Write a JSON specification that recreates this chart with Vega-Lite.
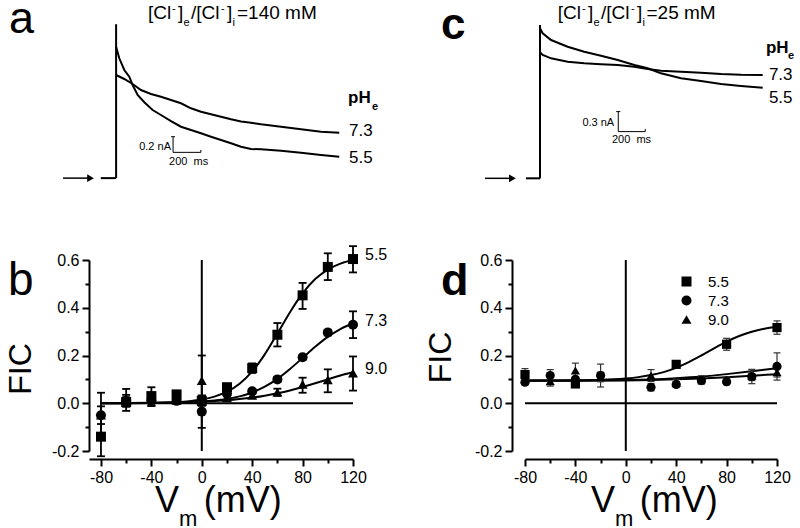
{
 "$schema": "https://vega.github.io/schema/vega-lite/v6.json",
 "background": "white",
 "padding": {"left": 4, "top": -4, "right": 0, "bottom": 0},
 "bounds": "flush",
 "columns": 2,
 "spacing": {"row": 60, "column": 172},
 "resolve": {"scale": {"shape": "independent"}, "legend": {"shape": "independent"}},
 "config": {
  "view": {"stroke": null},
  "font": "Liberation Sans",
  "text": {"font": "Liberation Sans", "color": "black"},
  "axis": {"labelFont": "Liberation Sans", "labelFontSize": 16, "labelColor": "black", "domainColor": "black", "domainWidth": 2, "tickColor": "black", "tickWidth": 2, "grid": false, "labelPadding": 3},
  "legend": {"labelFont": "Liberation Sans", "labelColor": "black"}
 },
 "datasets": {
  "b_pts": [
   {"ph":"5.5","V":-80,"FIC":-0.14,"lo":-0.222,"hi":-0.058},
   {"ph":"5.5","V":-60,"FIC":0.005,"lo":-0.015,"hi":0.025},
   {"ph":"5.5","V":-40,"FIC":0.03,"lo":-0.012,"hi":0.067},
   {"ph":"5.5","V":-20,"FIC":0.037,"lo":0.022,"hi":0.052},
   {"ph":"5.5","V":0,"FIC":0.01,"lo":-0.01,"hi":0.03},
   {"ph":"5.5","V":20,"FIC":0.067,"lo":0.052,"hi":0.082},
   {"ph":"5.5","V":40,"FIC":0.147,"lo":0.127,"hi":0.167},
   {"ph":"5.5","V":60,"FIC":0.287,"lo":0.238,"hi":0.336},
   {"ph":"5.5","V":80,"FIC":0.452,"lo":0.395,"hi":0.504},
   {"ph":"5.5","V":100,"FIC":0.571,"lo":0.516,"hi":0.628},
   {"ph":"5.5","V":120,"FIC":0.604,"lo":0.548,"hi":0.658},
   {"ph":"7.3","V":-80,"FIC":-0.05,"lo":-0.087,"hi":-0.013},
   {"ph":"7.3","V":-60,"FIC":0.01,"lo":-0.032,"hi":0.06},
   {"ph":"7.3","V":-40,"FIC":0.01,"lo":-0.01,"hi":0.03},
   {"ph":"7.3","V":-20,"FIC":0.01,"lo":0.0,"hi":0.02},
   {"ph":"7.3","V":0,"FIC":-0.035,"lo":-0.103,"hi":0.033},
   {"ph":"7.3","V":20,"FIC":0.04,"lo":0.03,"hi":0.05},
   {"ph":"7.3","V":40,"FIC":0.05,"lo":0.04,"hi":0.06},
   {"ph":"7.3","V":60,"FIC":0.1,"lo":0.09,"hi":0.11},
   {"ph":"7.3","V":80,"FIC":0.193,"lo":0.183,"hi":0.203},
   {"ph":"7.3","V":100,"FIC":0.296,"lo":0.284,"hi":0.308},
   {"ph":"7.3","V":120,"FIC":0.329,"lo":0.273,"hi":0.385},
   {"ph":"9.0","V":-80,"FIC":-0.05,"lo":-0.144,"hi":0.044},
   {"ph":"9.0","V":-60,"FIC":0.015,"lo":-0.005,"hi":0.035},
   {"ph":"9.0","V":-40,"FIC":0.02,"lo":0.0,"hi":0.04},
   {"ph":"9.0","V":-20,"FIC":0.012,"lo":0.002,"hi":0.022},
   {"ph":"9.0","V":0,"FIC":0.095,"lo":-0.01,"hi":0.2},
   {"ph":"9.0","V":20,"FIC":0.022,"lo":0.012,"hi":0.032},
   {"ph":"9.0","V":40,"FIC":0.033,"lo":0.023,"hi":0.043},
   {"ph":"9.0","V":60,"FIC":0.046,"lo":0.031,"hi":0.061},
   {"ph":"9.0","V":80,"FIC":0.079,"lo":0.044,"hi":0.107},
   {"ph":"9.0","V":100,"FIC":0.098,"lo":0.046,"hi":0.142},
   {"ph":"9.0","V":120,"FIC":0.126,"lo":0.053,"hi":0.196}
  ],
  "b_fit": [
   {"ph":"5.5","V":-80,"FIC":0.0002},{"ph":"5.5","V":-60,"FIC":0.0005},{"ph":"5.5","V":-40,"FIC":0.0015},{"ph":"5.5","V":-30,"FIC":0.0028},{"ph":"5.5","V":-20,"FIC":0.005},{"ph":"5.5","V":-10,"FIC":0.0088},{"ph":"5.5","V":0,"FIC":0.0157},{"ph":"5.5","V":10,"FIC":0.0278},{"ph":"5.5","V":20,"FIC":0.0484},{"ph":"5.5","V":30,"FIC":0.0819},{"ph":"5.5","V":40,"FIC":0.1334},{"ph":"5.5","V":50,"FIC":0.2049},{"ph":"5.5","V":60,"FIC":0.2918},{"ph":"5.5","V":70,"FIC":0.3815},{"ph":"5.5","V":80,"FIC":0.46},{"ph":"5.5","V":90,"FIC":0.52},{"ph":"5.5","V":100,"FIC":0.56},{"ph":"5.5","V":110,"FIC":0.585},{"ph":"5.5","V":120,"FIC":0.6},
   {"ph":"7.3","V":-80,"FIC":0.0001},{"ph":"7.3","V":-60,"FIC":0.0004},{"ph":"7.3","V":-40,"FIC":0.0009},{"ph":"7.3","V":-20,"FIC":0.0025},{"ph":"7.3","V":-10,"FIC":0.0042},{"ph":"7.3","V":0,"FIC":0.0068},{"ph":"7.3","V":10,"FIC":0.0111},{"ph":"7.3","V":20,"FIC":0.018},{"ph":"7.3","V":30,"FIC":0.0288},{"ph":"7.3","V":40,"FIC":0.0452},{"ph":"7.3","V":50,"FIC":0.0693},{"ph":"7.3","V":60,"FIC":0.102},{"ph":"7.3","V":70,"FIC":0.1435},{"ph":"7.3","V":80,"FIC":0.19},{"ph":"7.3","V":90,"FIC":0.2365},{"ph":"7.3","V":100,"FIC":0.278},{"ph":"7.3","V":110,"FIC":0.3107},{"ph":"7.3","V":120,"FIC":0.335},
   {"ph":"9.0","V":-80,"FIC":0.0005},{"ph":"9.0","V":-40,"FIC":0.0019},{"ph":"9.0","V":-20,"FIC":0.0036},{"ph":"9.0","V":0,"FIC":0.0068},{"ph":"9.0","V":10,"FIC":0.0095},{"ph":"9.0","V":20,"FIC":0.0129},{"ph":"9.0","V":30,"FIC":0.0177},{"ph":"9.0","V":40,"FIC":0.0238},{"ph":"9.0","V":50,"FIC":0.0318},{"ph":"9.0","V":60,"FIC":0.0418},{"ph":"9.0","V":70,"FIC":0.0538},{"ph":"9.0","V":80,"FIC":0.068},{"ph":"9.0","V":90,"FIC":0.0835},{"ph":"9.0","V":100,"FIC":0.1},{"ph":"9.0","V":110,"FIC":0.1165},{"ph":"9.0","V":120,"FIC":0.13}
  ],
  "d_pts": [
   {"ph":"5.5","V":-80,"FIC":0.12,"lo":0.095,"hi":0.145},
   {"ph":"5.5","V":-40,"FIC":0.081,"lo":0.066,"hi":0.096},
   {"ph":"5.5","V":40,"FIC":0.163,"lo":0.153,"hi":0.173},
   {"ph":"5.5","V":80,"FIC":0.247,"lo":0.222,"hi":0.272},
   {"ph":"5.5","V":120,"FIC":0.317,"lo":0.289,"hi":0.345},
   {"ph":"7.3","V":-80,"FIC":0.088,"lo":0.078,"hi":0.098},
   {"ph":"7.3","V":-60,"FIC":0.116,"lo":0.091,"hi":0.141},
   {"ph":"7.3","V":-40,"FIC":0.1,"lo":0.09,"hi":0.11},
   {"ph":"7.3","V":-20,"FIC":0.116,"lo":0.068,"hi":0.164},
   {"ph":"7.3","V":20,"FIC":0.067,"lo":0.052,"hi":0.082},
   {"ph":"7.3","V":40,"FIC":0.079,"lo":0.067,"hi":0.091},
   {"ph":"7.3","V":60,"FIC":0.095,"lo":0.08,"hi":0.11},
   {"ph":"7.3","V":80,"FIC":0.09,"lo":0.078,"hi":0.102},
   {"ph":"7.3","V":100,"FIC":0.112,"lo":0.082,"hi":0.142},
   {"ph":"7.3","V":120,"FIC":0.154,"lo":0.097,"hi":0.211},
   {"ph":"9.0","V":-80,"FIC":0.1,"lo":0.08,"hi":0.12},
   {"ph":"9.0","V":-60,"FIC":0.092,"lo":0.072,"hi":0.112},
   {"ph":"9.0","V":-40,"FIC":0.137,"lo":0.107,"hi":0.168},
   {"ph":"9.0","V":-20,"FIC":0.11,"lo":0.09,"hi":0.13},
   {"ph":"9.0","V":20,"FIC":0.116,"lo":0.091,"hi":0.141},
   {"ph":"9.0","V":40,"FIC":0.085,"lo":0.07,"hi":0.1},
   {"ph":"9.0","V":60,"FIC":0.1,"lo":0.085,"hi":0.115},
   {"ph":"9.0","V":80,"FIC":0.1,"lo":0.09,"hi":0.11},
   {"ph":"9.0","V":100,"FIC":0.115,"lo":0.095,"hi":0.135},
   {"ph":"9.0","V":120,"FIC":0.13,"lo":0.11,"hi":0.15}
  ],
  "d_fit": [
   {"ph":"5.5","V":-80,"FIC":0.095},{"ph":"5.5","V":-60,"FIC":0.0955},{"ph":"5.5","V":-40,"FIC":0.0963},{"ph":"5.5","V":-20,"FIC":0.0984},{"ph":"5.5","V":-10,"FIC":0.1005},{"ph":"5.5","V":0,"FIC":0.104},{"ph":"5.5","V":10,"FIC":0.1094},{"ph":"5.5","V":20,"FIC":0.118},{"ph":"5.5","V":30,"FIC":0.1305},{"ph":"5.5","V":40,"FIC":0.148},{"ph":"5.5","V":50,"FIC":0.172},{"ph":"5.5","V":60,"FIC":0.2},{"ph":"5.5","V":70,"FIC":0.2299},{"ph":"5.5","V":80,"FIC":0.258},{"ph":"5.5","V":90,"FIC":0.2816},{"ph":"5.5","V":100,"FIC":0.2995},{"ph":"5.5","V":110,"FIC":0.3121},{"ph":"5.5","V":120,"FIC":0.3206},
   {"ph":"7.3","V":-80,"FIC":0.095},{"ph":"7.3","V":-40,"FIC":0.095},{"ph":"7.3","V":0,"FIC":0.097},{"ph":"7.3","V":20,"FIC":0.1},{"ph":"7.3","V":40,"FIC":0.105},{"ph":"7.3","V":60,"FIC":0.112},{"ph":"7.3","V":80,"FIC":0.122},{"ph":"7.3","V":100,"FIC":0.134},{"ph":"7.3","V":120,"FIC":0.147},
   {"ph":"9.0","V":-80,"FIC":0.094},{"ph":"9.0","V":-40,"FIC":0.094},{"ph":"9.0","V":0,"FIC":0.095},{"ph":"9.0","V":20,"FIC":0.097},{"ph":"9.0","V":40,"FIC":0.1},{"ph":"9.0","V":60,"FIC":0.104},{"ph":"9.0","V":80,"FIC":0.109},{"ph":"9.0","V":100,"FIC":0.115},{"ph":"9.0","V":120,"FIC":0.122}
  ]
 },
 "concat": [
    {
     "width": 264, "height": 200,
     "encoding": {
      "x": {"field": "t", "type": "quantitative", "scale": {"domain": [-195, 1705], "nice": false, "zero": false}, "axis": null},
      "y": {"field": "I", "type": "quantitative", "scale": {"domain": [-0.28, 2.28], "nice": false, "zero": false}, "axis": null}
     },
     "layer": [
      {
       "data": {"values": [
        {"ph":"5.5","i":0,"t":0,"I":1.68},{"ph":"5.5","i":1,"t":23,"I":1.534},{"ph":"5.5","i":2,"t":59,"I":1.384},{"ph":"5.5","i":3,"t":95,"I":1.298},{"ph":"5.5","i":4,"t":119,"I":1.192},{"ph":"5.5","i":5,"t":155,"I":1.064},{"ph":"5.5","i":6,"t":203,"I":0.971},{"ph":"5.5","i":7,"t":263,"I":0.872},{"ph":"5.5","i":8,"t":323,"I":0.808},{"ph":"5.5","i":9,"t":395,"I":0.731},{"ph":"5.5","i":10,"t":467,"I":0.658},{"ph":"5.5","i":11,"t":539,"I":0.616},{"ph":"5.5","i":12,"t":611,"I":0.574},{"ph":"5.5","i":13,"t":683,"I":0.53},{"ph":"5.5","i":14,"t":755,"I":0.488},{"ph":"5.5","i":15,"t":827,"I":0.446},{"ph":"5.5","i":16,"t":899,"I":0.402},{"ph":"5.5","i":17,"t":971,"I":0.373},{"ph":"5.5","i":18,"t":1043,"I":0.369},{"ph":"5.5","i":19,"t":1187,"I":0.351},{"ph":"5.5","i":20,"t":1331,"I":0.325},{"ph":"5.5","i":21,"t":1475,"I":0.296},{"ph":"5.5","i":22,"t":1606,"I":0.274},
        {"ph":"7.3","i":0,"t":0,"I":1.32},{"ph":"7.3","i":1,"t":59,"I":1.269},{"ph":"7.3","i":2,"t":119,"I":1.205},{"ph":"7.3","i":3,"t":179,"I":1.128},{"ph":"7.3","i":4,"t":251,"I":1.077},{"ph":"7.3","i":5,"t":323,"I":1.042},{"ph":"7.3","i":6,"t":395,"I":1.0},{"ph":"7.3","i":7,"t":467,"I":0.958},{"ph":"7.3","i":8,"t":539,"I":0.894},{"ph":"7.3","i":9,"t":611,"I":0.85},{"ph":"7.3","i":10,"t":683,"I":0.817},{"ph":"7.3","i":11,"t":755,"I":0.786},{"ph":"7.3","i":12,"t":827,"I":0.753},{"ph":"7.3","i":13,"t":899,"I":0.725},{"ph":"7.3","i":14,"t":971,"I":0.709},{"ph":"7.3","i":15,"t":1043,"I":0.689},{"ph":"7.3","i":16,"t":1187,"I":0.658},{"ph":"7.3","i":17,"t":1331,"I":0.625},{"ph":"7.3","i":18,"t":1475,"I":0.594},{"ph":"7.3","i":19,"t":1606,"I":0.581}
       ]},
       "mark": {"type": "line", "color": "black", "strokeWidth": 2},
       "encoding": {"detail": {"field": "ph"}, "order": {"field": "i", "type": "quantitative"}}
      },
      {
       "data": {"values": [{"t":-110,"I":0,"t2":0,"I2":0},{"t":0,"I":0,"t2":0,"I2":1.97}]},
       "mark": {"type": "rule", "color": "black", "strokeWidth": 2},
       "encoding": {"x2": {"field": "t2"}, "y2": {"field": "I2"}}
      },
      {
       "data": {"values": [{"t": -382, "I": 0, "t2": -195}]},
       "mark": {"type": "rule", "color": "black", "strokeWidth": 1.5},
       "encoding": {"x2": {"field": "t2"}}
      },
      {
       "data": {"values": [{"t": -184, "I": 0}]},
       "mark": {"type": "point", "shape": "triangle-right", "filled": true, "color": "black", "size": 60, "opacity": 1}
      },
      {
       "data": {"values": [{"t":410,"I":0.33,"t2":410,"I2":0.53},{"t":410,"I":0.33,"t2":610,"I2":0.33},{"t":396,"I":0.53,"t2":424,"I2":0.53},{"t":610,"I":0.33,"t2":610,"I2":0.36}]},
       "mark": {"type": "rule", "color": "black", "strokeWidth": 1},
       "encoding": {"x2": {"field": "t2"}, "y2": {"field": "I2"}}
      },
      {
       "data": {"values": [{"t": -771, "I": 1.858, "label": "a"}]},
       "mark": {"type": "text", "fontSize": 45, "align": "left", "baseline": "alphabetic"},
       "encoding": {"text": {"field": "label"}}
      },
      {
       "data": {"values": [{"t":230,"I":2.037,"label":"[Cl"},{"t":445,"I":2.037,"label":"]"},{"t":539,"I":2.037,"label":"/[Cl"},{"t":798,"I":2.037,"label":"]"},{"t":870,"I":2.037,"label":"=140 mM"}]},
       "mark": {"type": "text", "fontSize": 19, "align": "left", "baseline": "alphabetic"},
       "encoding": {"text": {"field": "label"}}
      },
      {
       "data": {"values": [{"t":402,"I":2.126,"label":"-"},{"t":755,"I":2.126,"label":"-"},{"t":485,"I":1.941,"label":"e"},{"t":838,"I":1.941,"label":"i"}]},
       "mark": {"type": "text", "fontSize": 11, "align": "left", "baseline": "alphabetic"},
       "encoding": {"text": {"field": "label"}}
      },
      {
       "data": {"values": [{"t":1669,"I":0.962,"label":"pH"}]},
       "mark": {"type": "text", "fontSize": 17, "fontWeight": "bold", "align": "left", "baseline": "alphabetic"},
       "encoding": {"text": {"field": "label"}}
      },
      {
       "data": {"values": [{"t":1842,"I":0.872,"label":"e"}]},
       "mark": {"type": "text", "fontSize": 11, "fontWeight": "bold", "align": "left", "baseline": "alphabetic"},
       "encoding": {"text": {"field": "label"}}
      },
      {
       "data": {"values": [{"t":1676,"I":0.539,"label":"7.3"},{"t":1676,"I":0.194,"label":"5.5"}]},
       "mark": {"type": "text", "fontSize": 17, "align": "left", "baseline": "alphabetic"},
       "encoding": {"text": {"field": "label"}}
      },
      {
       "data": {"values": [{"t":395,"I":0.366,"label":"0.2 nA"}]},
       "mark": {"type": "text", "fontSize": 11, "align": "right", "baseline": "alphabetic"},
       "encoding": {"text": {"field": "label"}}
      },
      {
       "data": {"values": [{"t":381,"I":0.162,"label":"200\u00a0\u00a0ms"}]},
       "mark": {"type": "text", "fontSize": 11, "align": "left", "baseline": "alphabetic"},
       "encoding": {"text": {"field": "label"}}
      }
     ]
    },
    {
     "width": 252, "height": 200,
     "encoding": {
      "x": {"field": "t", "type": "quantitative", "scale": {"domain": [-111, 1756], "nice": false, "zero": false}, "axis": null},
      "y": {"field": "I", "type": "quantitative", "scale": {"domain": [-0.325, 2.673], "nice": false, "zero": false}, "axis": null}
     },
     "layer": [
      {
       "data": {"values": [
        {"ph":"5.5","i":0,"t":0,"I":2.249},{"ph":"5.5","i":1,"t":20,"I":2.174},{"ph":"5.5","i":2,"t":82,"I":2.073},{"ph":"5.5","i":3,"t":205,"I":1.973},{"ph":"5.5","i":4,"t":328,"I":1.898},{"ph":"5.5","i":5,"t":452,"I":1.838},{"ph":"5.5","i":6,"t":576,"I":1.774},{"ph":"5.5","i":7,"t":699,"I":1.699},{"ph":"5.5","i":8,"t":798,"I":1.649},{"ph":"5.5","i":9,"t":896,"I":1.574},{"ph":"5.5","i":10,"t":1045,"I":1.499},{"ph":"5.5","i":11,"t":1193,"I":1.459},{"ph":"5.5","i":12,"t":1341,"I":1.414},{"ph":"5.5","i":13,"t":1489,"I":1.384},{"ph":"5.5","i":14,"t":1650,"I":1.358},
        {"ph":"7.3","i":0,"t":0,"I":1.889},{"ph":"7.3","i":1,"t":20,"I":1.849},{"ph":"7.3","i":2,"t":82,"I":1.799},{"ph":"7.3","i":3,"t":205,"I":1.748},{"ph":"7.3","i":4,"t":328,"I":1.724},{"ph":"7.3","i":5,"t":452,"I":1.709},{"ph":"7.3","i":6,"t":576,"I":1.699},{"ph":"7.3","i":7,"t":699,"I":1.673},{"ph":"7.3","i":8,"t":798,"I":1.639},{"ph":"7.3","i":9,"t":896,"I":1.613},{"ph":"7.3","i":10,"t":1045,"I":1.598},{"ph":"7.3","i":11,"t":1193,"I":1.583},{"ph":"7.3","i":12,"t":1341,"I":1.564},{"ph":"7.3","i":13,"t":1489,"I":1.553},{"ph":"7.3","i":14,"t":1650,"I":1.549}
       ]},
       "mark": {"type": "line", "color": "black", "strokeWidth": 2},
       "encoding": {"detail": {"field": "ph"}, "order": {"field": "i", "type": "quantitative"}}
      },
      {
       "data": {"values": [{"t":-104,"I":0,"t2":0,"I2":0},{"t":0,"I":0,"t2":0,"I2":2.298}]},
       "mark": {"type": "rule", "color": "black", "strokeWidth": 2},
       "encoding": {"x2": {"field": "t2"}, "y2": {"field": "I2"}}
      },
      {
       "data": {"values": [{"t": -407, "I": 0, "t2": -222}]},
       "mark": {"type": "rule", "color": "black", "strokeWidth": 1.5},
       "encoding": {"x2": {"field": "t2"}}
      },
      {
       "data": {"values": [{"t": -204, "I": 0}]},
       "mark": {"type": "point", "shape": "triangle-right", "filled": true, "color": "black", "size": 60, "opacity": 1}
      },
      {
       "data": {"values": [{"t":580,"I":0.7,"t2":580,"I2":1.0},{"t":580,"I":0.7,"t2":780,"I2":0.7},{"t":565,"I":1.0,"t2":595,"I2":1.0},{"t":780,"I":0.7,"t2":780,"I2":0.74}]},
       "mark": {"type": "rule", "color": "black", "strokeWidth": 1},
       "encoding": {"x2": {"field": "t2"}, "y2": {"field": "I2"}}
      },
      {
       "data": {"values": [{"t": -733, "I": 2.088, "label": "c"}]},
       "mark": {"type": "text", "fontSize": 44, "fontWeight": "bold", "align": "left", "baseline": "alphabetic"},
       "encoding": {"text": {"field": "label"}}
      },
      {
       "data": {"values": [{"t":131,"I":2.388,"label":"[Cl"},{"t":356,"I":2.388,"label":"]"},{"t":452,"I":2.388,"label":"/[Cl"},{"t":719,"I":2.388,"label":"]"},{"t":789,"I":2.388,"label":"=25 mM"}]},
       "mark": {"type": "text", "fontSize": 19, "align": "left", "baseline": "alphabetic"},
       "encoding": {"text": {"field": "label"}}
      },
      {
       "data": {"values": [{"t":311,"I":2.493,"label":"-"},{"t":674,"I":2.493,"label":"-"},{"t":396,"I":2.276,"label":"e"},{"t":759,"I":2.276,"label":"i"}]},
       "mark": {"type": "text", "fontSize": 11, "align": "left", "baseline": "alphabetic"},
       "encoding": {"text": {"field": "label"}}
      },
      {
       "data": {"values": [{"t":1674,"I":1.874,"label":"pH"}]},
       "mark": {"type": "text", "fontSize": 17, "fontWeight": "bold", "align": "left", "baseline": "alphabetic"},
       "encoding": {"text": {"field": "label"}}
      },
      {
       "data": {"values": [{"t":1837,"I":1.796,"label":"e"}]},
       "mark": {"type": "text", "fontSize": 11, "fontWeight": "bold", "align": "left", "baseline": "alphabetic"},
       "encoding": {"text": {"field": "label"}}
      },
      {
       "data": {"values": [{"t":1696,"I":1.474,"label":"7.3"},{"t":1696,"I":1.122,"label":"5.5"}]},
       "mark": {"type": "text", "fontSize": 17, "align": "left", "baseline": "alphabetic"},
       "encoding": {"text": {"field": "label"}}
      },
      {
       "data": {"values": [{"t":550,"I":0.777,"label":"0.3 nA"}]},
       "mark": {"type": "text", "fontSize": 11, "align": "right", "baseline": "alphabetic"},
       "encoding": {"text": {"field": "label"}}
      },
      {
       "data": {"values": [{"t":533,"I":0.529,"label":"200\u00a0\u00a0ms"}]},
       "mark": {"type": "text", "fontSize": 11, "align": "left", "baseline": "alphabetic"},
       "encoding": {"text": {"field": "label"}}
      }
     ]
    },
    {
     "width": 264, "height": 191,
     "resolve": {"axis": {"x": "independent", "y": "independent"}},
     "encoding": {
      "x": {"field": "V", "type": "quantitative", "scale": {"domain": [-89.5, 120], "nice": false, "zero": false}, "axis": null},
      "y": {"field": "FIC", "type": "quantitative", "scale": {"domain": [-0.2, 0.6], "nice": false, "zero": false}, "axis": null}
     },
     "layer": [
      {
       "data": {"values": [{"V":-80,"V2":120,"FIC":0,"FIC2":0},{"V":0,"V2":0,"FIC":-0.2,"FIC2":0.6}]},
       "mark": {"type": "rule", "color": "black", "strokeWidth": 2},
       "encoding": {
        "x": {"field": "V", "type": "quantitative", "scale": {"domain": [-89.5, 120], "nice": false, "zero": false},
              "axis": {"orient": "bottom", "offset": 8, "values": [-80,-40,0,40,80,120], "tickSize": 7, "title": null, "labelFlush": false, "labelOverlap": false, "labelExpr": "datum.value < 0 ? '-' + (-datum.value) : '' + datum.value"}},
        "x2": {"field": "V2"},
        "y": {"field": "FIC", "type": "quantitative", "scale": {"domain": [-0.2, 0.6], "nice": false, "zero": false},
              "axis": {"orient": "left", "offset": 0, "values": [-0.2,0,0.2,0.4,0.6], "tickSize": 7, "title": null, "labelFlush": false, "labelOverlap": false, "labelExpr": "datum.value < 0 ? '-' + format(-datum.value, '.1f') : format(datum.value, '.1f')"}},
        "y2": {"field": "FIC2"}
       }
      },
      {
       "data": {"name": "b_fit"},
       "mark": {"type": "line", "color": "black", "strokeWidth": 2, "interpolate": "monotone"},
       "encoding": {
        "x": {"field": "V", "type": "quantitative", "scale": {"domain": [-89.5, 120], "nice": false, "zero": false},
              "axis": {"orient": "bottom", "offset": 8, "values": [-60,-20,20,60,100], "tickSize": 4, "labels": false, "domain": false, "title": null}},
        "y": {"field": "FIC", "type": "quantitative", "scale": {"domain": [-0.2, 0.6], "nice": false, "zero": false},
              "axis": {"orient": "left", "offset": 0, "values": [-0.1,0.1,0.3,0.5], "tickSize": 4, "labels": false, "domain": false, "title": null}},
        "detail": {"field": "ph"}
       }
      },
      {
       "data": {"name": "b_pts"},
       "mark": {"type": "rule", "color": "black", "strokeWidth": 1.8},
       "encoding": {
        "y": {"field": "lo", "type": "quantitative", "scale": {"domain": [-0.2, 0.6], "nice": false, "zero": false}, "axis": null},
        "y2": {"field": "hi"}
       }
      },
      {
       "data": {"name": "b_pts"},
       "mark": {"type": "tick", "orient": "horizontal", "color": "black", "size": 8, "thickness": 1.8, "opacity": 1},
       "encoding": {"y": {"field": "lo", "type": "quantitative", "scale": {"domain": [-0.2, 0.6], "nice": false, "zero": false}, "axis": null}}
      },
      {
       "data": {"name": "b_pts"},
       "mark": {"type": "tick", "orient": "horizontal", "color": "black", "size": 8, "thickness": 1.8, "opacity": 1},
       "encoding": {"y": {"field": "hi", "type": "quantitative", "scale": {"domain": [-0.2, 0.6], "nice": false, "zero": false}, "axis": null}}
      },
      {
       "data": {"name": "b_pts"},
       "mark": {"type": "point", "filled": true, "color": "black", "opacity": 1, "size": 100},
       "encoding": {
        "shape": {"field": "ph", "type": "nominal", "scale": {"domain": ["5.5","7.3","9.0"], "range": ["square","circle","triangle-up"]}, "legend": null}
       }
      },
      {
       "data": {"name": "b_pts"},
       "transform": [{"filter": "datum.V == 120"}],
       "mark": {"type": "text", "fontSize": 16, "align": "left", "baseline": "middle", "dx": 12, "dy": -4},
       "encoding": {"text": {"field": "ph"}}
      },
      {
       "data": {"values": [{"V": -153.8, "FIC": 0.453, "label": "b"}]},
       "mark": {"type": "text", "fontSize": 46, "align": "left", "baseline": "alphabetic"},
       "encoding": {"text": {"field": "label"}}
      },
      {
       "data": {"values": [{"V": -143.5, "FIC": 0.1435, "label": "FIC"}]},
       "mark": {"type": "text", "fontSize": 32, "align": "center", "baseline": "middle", "angle": 270},
       "encoding": {"text": {"field": "label"}}
      },
      {
       "data": {"values": [{"V": -37.1, "FIC": -0.4555, "label": "V"}, {"V": 1.5, "FIC": -0.4555, "label": "(mV)"}]},
       "mark": {"type": "text", "fontSize": 36, "align": "left", "baseline": "alphabetic"},
       "encoding": {"text": {"field": "label"}}
      },
      {
       "data": {"values": [{"V": -18.1, "FIC": -0.515, "label": "m"}]},
       "mark": {"type": "text", "fontSize": 22, "align": "left", "baseline": "alphabetic"},
       "encoding": {"text": {"field": "label"}}
      }
     ]
    },
    {
     "width": 252, "height": 191,
     "resolve": {"axis": {"x": "independent", "y": "independent"}},
     "encoding": {
      "x": {"field": "V", "type": "quantitative", "scale": {"domain": [-80, 120], "nice": false, "zero": false}, "axis": null},
      "y": {"field": "FIC", "type": "quantitative", "scale": {"domain": [-0.2, 0.6], "nice": false, "zero": false}, "axis": null}
     },
     "layer": [
      {
       "data": {"values": [{"V":-80,"V2":120,"FIC":0,"FIC2":0},{"V":0,"V2":0,"FIC":-0.2,"FIC2":0.6}]},
       "mark": {"type": "rule", "color": "black", "strokeWidth": 2},
       "encoding": {
        "x": {"field": "V", "type": "quantitative", "scale": {"domain": [-80, 120], "nice": false, "zero": false},
              "axis": {"orient": "bottom", "offset": 8, "values": [-80,-40,0,40,80,120], "tickSize": 7, "title": null, "labelFlush": false, "labelOverlap": false, "labelExpr": "datum.value < 0 ? '-' + (-datum.value) : '' + datum.value"}},
        "x2": {"field": "V2"},
        "y": {"field": "FIC", "type": "quantitative", "scale": {"domain": [-0.2, 0.6], "nice": false, "zero": false},
              "axis": {"orient": "left", "offset": 13, "values": [-0.2,0,0.2,0.4,0.6], "tickSize": 7, "title": null, "labelFlush": false, "labelOverlap": false, "labelExpr": "datum.value < 0 ? '-' + format(-datum.value, '.1f') : format(datum.value, '.1f')"}},
        "y2": {"field": "FIC2"}
       }
      },
      {
       "data": {"name": "d_fit"},
       "mark": {"type": "line", "color": "black", "strokeWidth": 2, "interpolate": "monotone"},
       "encoding": {
        "x": {"field": "V", "type": "quantitative", "scale": {"domain": [-80, 120], "nice": false, "zero": false},
              "axis": {"orient": "bottom", "offset": 8, "values": [-60,-20,20,60,100], "tickSize": 4, "labels": false, "domain": false, "title": null}},
        "y": {"field": "FIC", "type": "quantitative", "scale": {"domain": [-0.2, 0.6], "nice": false, "zero": false},
              "axis": {"orient": "left", "offset": 13, "values": [-0.1,0.1,0.3,0.5], "tickSize": 4, "labels": false, "domain": false, "title": null}},
        "detail": {"field": "ph"}
       }
      },
      {
       "data": {"name": "d_pts"},
       "mark": {"type": "rule", "color": "#333333", "strokeWidth": 1.2},
       "encoding": {
        "y": {"field": "lo", "type": "quantitative", "scale": {"domain": [-0.2, 0.6], "nice": false, "zero": false}, "axis": null},
        "y2": {"field": "hi"}
       }
      },
      {
       "data": {"name": "d_pts"},
       "mark": {"type": "tick", "orient": "horizontal", "color": "#333333", "size": 7, "thickness": 1.2, "opacity": 1},
       "encoding": {"y": {"field": "lo", "type": "quantitative", "scale": {"domain": [-0.2, 0.6], "nice": false, "zero": false}, "axis": null}}
      },
      {
       "data": {"name": "d_pts"},
       "mark": {"type": "tick", "orient": "horizontal", "color": "#333333", "size": 7, "thickness": 1.2, "opacity": 1},
       "encoding": {"y": {"field": "hi", "type": "quantitative", "scale": {"domain": [-0.2, 0.6], "nice": false, "zero": false}, "axis": null}}
      },
      {
       "data": {"name": "d_pts"},
       "mark": {"type": "point", "filled": true, "color": "black", "opacity": 1, "size": 85},
       "encoding": {
        "shape": {"field": "ph", "type": "nominal", "scale": {"domain": ["5.5","7.3","9.0"], "range": ["square","circle","triangle-up"]},
                  "legend": {"orient": "none", "legendX": 154, "legendY": 14, "title": null, "symbolSize": 100, "symbolFillColor": "black", "symbolStrokeWidth": 0, "labelFontSize": 15, "labelOffset": 14, "rowPadding": 3, "padding": 0}}
       }
      },
      {
       "data": {"values": [{"V": -146.7, "FIC": 0.453, "label": "d"}]},
       "mark": {"type": "text", "fontSize": 45, "fontWeight": "bold", "align": "left", "baseline": "alphabetic"},
       "encoding": {"text": {"field": "label"}}
      },
      {
       "data": {"values": [{"V": -146.7, "FIC": 0.1916, "label": "FIC"}]},
       "mark": {"type": "text", "fontSize": 32, "align": "center", "baseline": "middle", "angle": 270},
       "encoding": {"text": {"field": "label"}}
      },
      {
       "data": {"values": [{"V": -27.6, "FIC": -0.4555, "label": "V"}, {"V": 11, "FIC": -0.4555, "label": "(mV)"}]},
       "mark": {"type": "text", "fontSize": 36, "align": "left", "baseline": "alphabetic"},
       "encoding": {"text": {"field": "label"}}
      },
      {
       "data": {"values": [{"V": -8.6, "FIC": -0.515, "label": "m"}]},
       "mark": {"type": "text", "fontSize": 22, "align": "left", "baseline": "alphabetic"},
       "encoding": {"text": {"field": "label"}}
      }
     ]
    }
 ]
}
